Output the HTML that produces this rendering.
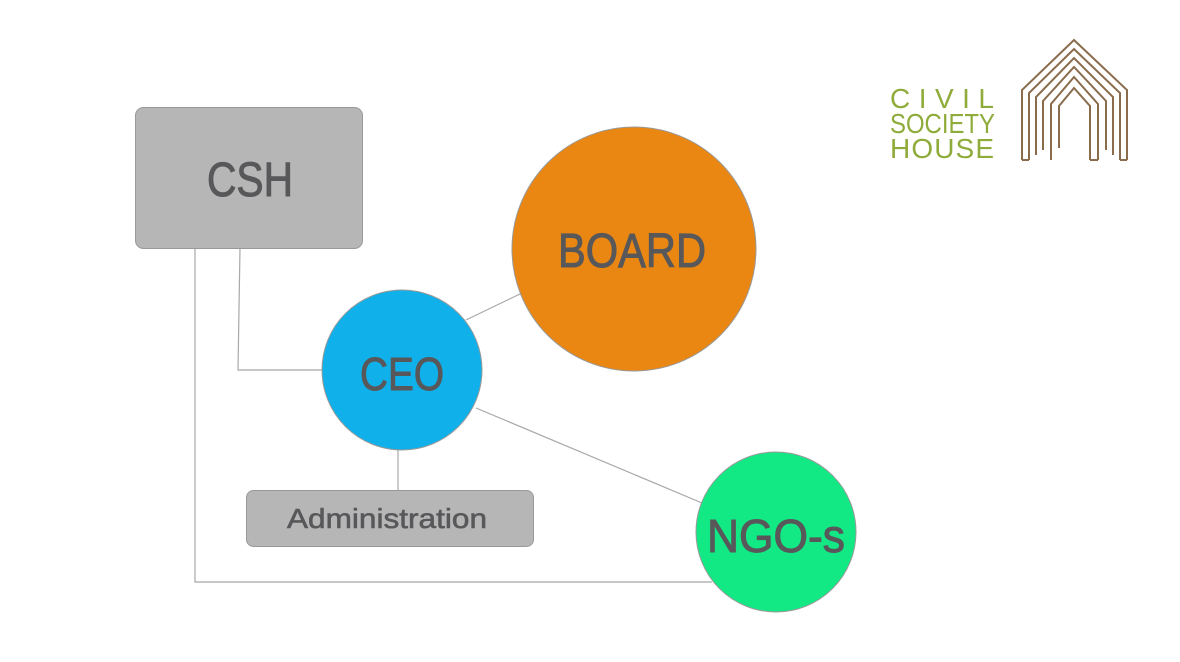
<!DOCTYPE html>
<html><head><style>
body{margin:0;width:1180px;height:662px;background:#fff;overflow:hidden}
</style></head><body>
<svg width="1180" height="662" xmlns="http://www.w3.org/2000/svg" style="position:absolute;left:0;top:0">
<g stroke="#a8a8a8" stroke-width="1.2" fill="none">
<polyline points="195,248 195,582 712,582"/>
<polyline points="240,248 238,370 322,370"/>
<line x1="466" y1="320" x2="522" y2="293"/>
<line x1="476" y1="408" x2="702" y2="503"/>
<line x1="398" y1="450" x2="398" y2="490"/>
</g>
<rect x="135.5" y="107.5" width="227" height="141" rx="8" fill="#b7b6b7" stroke="#999"/>
<rect x="246.5" y="490.5" width="287" height="56" rx="7" fill="#b7b6b7" stroke="#999"/>
<circle cx="634" cy="249" r="122" fill="#e98712" stroke="#999"/>
<circle cx="402" cy="370" r="80" fill="#10b1ea" stroke="#999"/>
<circle cx="776" cy="532" r="80" fill="#12e985" stroke="#999"/>
<g font-family="Liberation Sans, sans-serif" fill="#58585a" stroke="#58585a" stroke-width="1" text-anchor="middle">
<text x="250" y="196" font-size="48" textLength="86" lengthAdjust="spacingAndGlyphs">CSH</text>
<text x="632" y="267" font-size="48" textLength="148" lengthAdjust="spacingAndGlyphs">BOARD</text>
<text x="402" y="390" font-size="46" textLength="84" lengthAdjust="spacingAndGlyphs">CEO</text>
<text x="776" y="552" font-size="46" textLength="138" lengthAdjust="spacingAndGlyphs">NGO-s</text>
<text x="387" y="528" font-size="28" stroke-width="0.6" textLength="200" lengthAdjust="spacingAndGlyphs">Administration</text>
</g>
<g font-family="Liberation Sans, sans-serif" fill="#8fab3a" font-size="28">
<text x="890" y="108" textLength="104" lengthAdjust="spacing">CIVIL</text>
<text x="890" y="133" textLength="105" lengthAdjust="spacingAndGlyphs">SOCIETY</text>
<text x="890" y="158" textLength="104" lengthAdjust="spacing">HOUSE</text>
</g>
<g stroke="#8a6c4c" stroke-width="2" fill="none">
<polyline points="1022,160 1022,90 1074,40 1127,90 1127,160"/>
<polyline points="1029,160 1029,93 1074,49 1120,93 1120,160"/>
<polyline points="1036,155 1036,97 1074,58 1113,97 1113,155"/>
<polyline points="1043,150 1043,101 1074,67 1106,101 1106,150"/>
<polyline points="1059,148 1059,106 1074,88 1090,106 1090,160"/>
<polyline points="1051,160 1051,104 1074,77 1098,104 1098,160"/>
<line x1="1022" y1="160" x2="1029" y2="160"/>
<line x1="1090" y1="160" x2="1098" y2="160"/>
<line x1="1120" y1="160" x2="1127" y2="160"/>
</g>
</svg>
</body></html>
